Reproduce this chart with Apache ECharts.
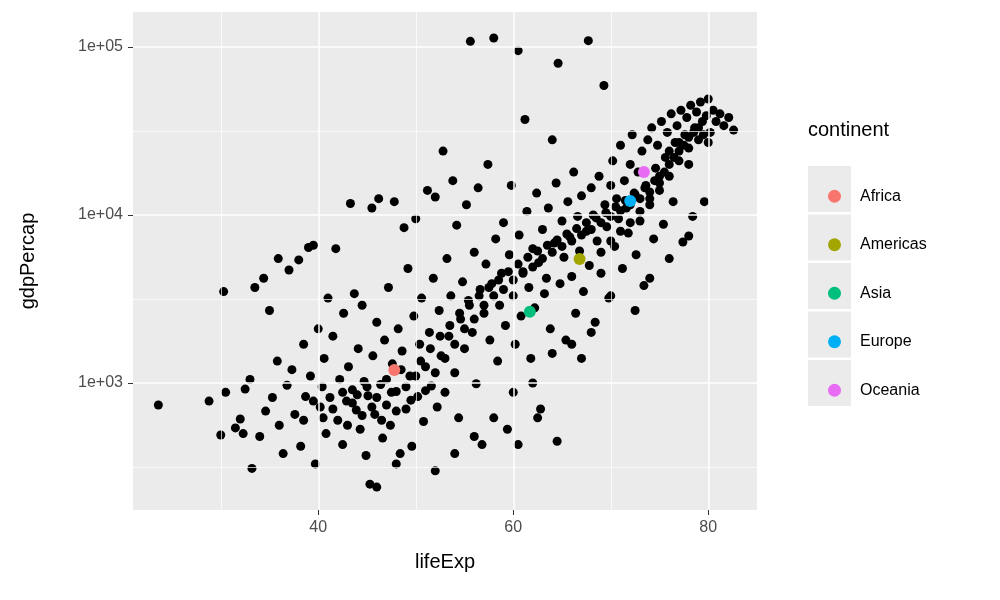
<!DOCTYPE html>
<html>
<head>
<meta charset="utf-8">
<script src="https://cdn.jsdelivr.net/npm/echarts@6/dist/echarts.min.js"></script>
<style>html,body{margin:0;padding:0;background:#fff}#chart{width:1000px;height:600px}</style>
</head>
<body>
<div id="chart"></div>
<script>
const points = [
  [23.6,740],[28.8,780],[30,490],[30.3,3500],[30.5,880],[31.5,540],[32,610],[32.5,920],[32.3,500],[33,1050],
  [33.2,310],[33.5,3700],[34,480],[34.4,4200],[34.6,680],[35,2700],[35.3,820],[35.8,1350],[35.9,5500],[36,560],
  [36.4,380],[36.8,970],[37,4700],[37.3,1200],[37.6,650],[38,5400],[38.2,420],[38.5,1700],[38.7,830],[39,6400],
  [39.2,1100],[39.5,6600],[39.7,330],[40,2100],[40.2,720],[40.4,950],[40.6,1400],[40.8,500],[41,3200],[41.2,820],
  [41.5,1900],[41.8,6300],[42,600],[42.2,1050],[42.5,430],[42.6,2600],[42.9,780],[43.1,1250],[43.3,11700],[43.5,910],
  [43.7,3400],[43.9,690],[44.1,1600],[44.3,530],[44.5,2900],[44.7,1020],[44.9,370],[45.1,840],[45.3,250],[45.5,11000],
  [45.6,1450],[45.8,650],[46,2300],[46.2,12500],[46.4,980],[46.6,470],[46.8,1800],[47,740],[47.2,3700],[47.4,560],
  [47.6,1300],[47.8,12000],[48,890],[48.2,2100],[48.4,380],[48.6,1550],[48.8,8400],[49,700],[49.2,4800],[49.4,1100],
  [49.6,420],[49.8,2500],[50,9500],[50.2,830],[50.4,1700],[50.6,3200],[50.8,590],[51,1250],[51.2,14000],[51.4,2000],
  [51.6,960],[51.8,4200],[52,12800],[52.2,720],[52.4,2700],[52.6,1450],[52.8,24000],[53,880],[53.2,5500],[53.4,1900],
  [53.6,3300],[53.8,16000],[54,1150],[54.2,8700],[54.4,620],[54.6,2400],[54.8,4000],[55,1600],[55.2,11500],[55.4,3100],
  [55.6,108000],[55.8,2000],[56,6000],[56.2,990],[56.4,14500],[56.6,3600],[56.8,430],[57,2600],[57.2,5100],[57.4,20000],
  [57.6,1800],[57.8,3900],[58,113000],[58.2,7200],[58.4,1350],[58.6,2900],[58.8,4500],[59,9000],[59.2,2200],[59.4,530],
  [59.6,5800],[59.8,15000],[60,3300],[60.2,1700],[60.5,95000],[60.6,7600],[60.8,2500],[61,4600],[61.2,37000],[61.4,10500],
  [61.6,3700],[61.8,1400],[62,6300],[62.2,2800],[62.4,13500],[62.6,5200],[62.8,700],[63,8200],[63.2,3400],[63.4,4200],
  [63.6,11000],[63.8,2100],[64,28000],[64.2,6800],[64.4,15500],[64.6,80000],[64.8,3900],[65,9200],[65.2,5600],[65.4,1800],
  [65.6,12000],[65.8,7400],[66,4300],[66.2,18000],[66.4,2600],[66.6,9800],[66.8,6100],[67,13000],[67.2,3500],[67.5,8000],
  [67.7,109000],[67.8,5000],[68,14500],[68.2,10000],[68.4,2300],[68.6,7000],[68.8,17000],[69,4500],[69.3,59000],[69.4,11500],
  [69.6,8500],[69.8,3200],[70,15000],[70.2,21000],[70.4,6500],[70.6,12500],[70.8,9500],[71,26000],[71.2,4800],[71.4,16000],
  [71.6,11000],[71.8,7800],[72,20000],[72.2,30000],[72.4,13500],[72.6,5800],[72.8,18000],[73,9200],[73.2,24000],[73.4,3800],
  [73.6,15000],[73.8,28000],[74,11500],[74.2,33000],[74.4,7200],[74.6,19000],[74.8,26000],[75,14000],[75.2,36000],[75.4,8800],
  [75.6,22000],[75.8,31000],[76,17000],[76.2,40000],[76.4,12000],[76.6,27000],[76.8,34000],[77,21000],[77.2,42000],[77.4,6900],
  [77.6,30000],[77.8,38000],[78,25000],[78.2,45000],[78.4,9800],[78.6,33000],[78.8,41000],[79,28000],[79.2,47000],[79.4,36000],
  [79.6,12000],[79.8,39000],[80,49000],[80.2,31000],[80.5,42000],[80.8,36000],[81.2,40000],[81.6,34000],[82.1,38000],[82.6,32000],
  [72.5,2700],[74,4200],[76,5500],[78,7500],[70,3300],[68,2000],[66,1700],[64,1500],[62,1000],[60,880],[58,620],[56,480],
  [54,380],[52,300],[46,240],[48,330],[60.5,430],[64.5,450],[67,1400],[62.5,620],
  // dense core of the cloud
  [38.5,600],[39.5,780],[40.5,620],[41.5,700],[42.5,880],[43,560],[43.5,760],[44,850],[44.5,640],[45,950],
  [45.5,720],[46,820],[46.5,600],[47,1050],[47.5,880],[48,680],[48.5,1200],[49,950],[49.5,790],[50,1100],
  [50.5,1350],[51,900],[51.5,1600],[52,1150],[52.5,1900],[53,1400],[53.5,2200],[54,1700],[54.5,2600],[55,2100],
  [55.5,2900],[56,2400],[56.5,3300],[57,2900],[57.5,3700],[58,3300],[58.5,4100],[59,3600],[59.5,4600],[60,4100],
  [60.5,5100],[61,4500],[61.5,5600],[62,4900],[62.5,6100],[63,5500],[63.5,6600],[64,6000],[64.5,7100],[65,6500],
  [65.5,7700],[66,7000],[66.5,8300],[67,7600],[67.5,9000],[68,8200],[68.5,9600],[69,9000],[69.5,10300],[70,9800],
  [70.5,11200],[71,10600],[71.5,12200],[72,11500],[72.5,13200],[73,12500],[73.5,14500],[74,13700],[74.5,16000],[75,15500],
  [75.5,18000],[76,20000],[76.5,22000],[77,24000],[77.5,26000],[78,29000],[78.5,31000],[79,33000],[79.5,30000],[80,27000],
  [69,6000],[70,7000],[71,8000],[72,9000],[73,10500],[74,12500],[75,17000],[76,24000],[77,27000],[78,20000]
];
const continents = ["Africa","Americas","Asia","Europe","Oceania"];
const contColors = ["#F8766D","#A3A500","#00BF7D","#00B0F6","#E76BF3"];
const contMeans = [[47.8,1195],[66.8,5470],[61.7,2650],[72.0,12100],[73.4,18000]];

const lg = v => Math.log10(v);
const chart = echarts.init(document.getElementById("chart"));
const series = [{
  type: "scatter", name: "all", data: points.map(p => [p[0], lg(p[1])]),
  symbolSize: 9, itemStyle: { color: "#000", opacity: 1 }, silent: true, z: 2
}];
continents.forEach((c, i) => series.push({
  type: "scatter", name: c, data: [[contMeans[i][0], lg(contMeans[i][1])]],
  symbolSize: 12, itemStyle: { color: contColors[i], opacity: 1 }, z: 3
}));

const keyBoxes = continents.map((c, i) => ({
  type: "rect", shape: { x: 808, y: 166 + i * 48.5, width: 43, height: 46 },
  style: { fill: "#ebebeb" }, z: -1
}));
const thin = { color: "#fff", width: 0.7, type: "solid" };
const thick = { color: "#fff", width: 1.5, type: "solid" };

chart.setOption({
  animation: false,
  backgroundColor: "#fff",
  grid: { left: 133, top: 12, width: 624, height: 498, backgroundColor: "#ebebeb", show: true, borderWidth: 0 },
  xAxis: {
    type: "value", min: 21, max: 85,
    axisLabel: { color: "#4d4d4d", fontSize: 16, fontFamily: "Liberation Sans", margin: 10, customValues: [40, 60, 80] },
    axisTick: { show: true, length: 5, lineStyle: { color: "#333" }, customValues: [40, 60, 80] },
    axisLine: { show: false },
    splitLine: { show: false },
    name: "lifeExp", nameLocation: "middle", nameGap: 42,
    nameTextStyle: { color: "#000", fontSize: 20, fontFamily: "Liberation Sans" }
  },
  yAxis: {
    type: "value", min: 2.244, max: 5.208,
    axisLabel: { color: "#4d4d4d", fontSize: 16, fontFamily: "Liberation Sans", margin: 10,
      customValues: [3, 4, 5], formatter: v => "1e+0" + Math.round(v) },
    axisTick: { show: true, length: 5, lineStyle: { color: "#333" }, customValues: [3, 4, 5] },
    axisLine: { show: false },
    splitLine: { show: false },
    name: "gdpPercap", nameLocation: "middle", nameGap: 95,
    nameTextStyle: { color: "#000", fontSize: 20, fontFamily: "Liberation Sans" }
  },
  series: series.concat([
    { type: "line", data: [], z: 1, markLine: { silent: true, symbol: "none", label: { show: false }, animation: false,
      data: [
        ...[30, 50, 70].map(v => ({ xAxis: v, lineStyle: thin })),
        ...[2.5, 3.5, 4.5].map(v => ({ yAxis: v, lineStyle: thin })),
        ...[40, 60, 80].map(v => ({ xAxis: v, lineStyle: thick })),
        ...[3, 4, 5].map(v => ({ yAxis: v, lineStyle: thick }))
      ] } }
  ]),
  legend: {
    data: continents, orient: "vertical", left: 823, top: 182, itemGap: 30,
    itemWidth: 13, itemHeight: 13, icon: "circle",
    textStyle: { color: "#000", fontSize: 16, fontFamily: "Liberation Sans", padding: [0, 0, 0, 14], height: 18.5, lineHeight: 18.5 }
  },
  graphic: [
    { type: "text", left: 808, top: 120, style: { text: "continent", fontSize: 20, fontFamily: "Liberation Sans", fill: "#000" } },
    ...keyBoxes
  ]
});
</script>
</body>
</html>
